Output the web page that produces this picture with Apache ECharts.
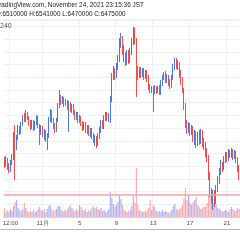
<!DOCTYPE html>
<html>
<head>
<meta charset="utf-8">
<script src="https://cdn.jsdelivr.net/npm/echarts@6/dist/echarts.min.js"></script>
<style>
  html, body { margin: 0; padding: 0; background: #fff; }
  #chart { width: 240px; height: 240px; }
</style>
</head>
<body>
<div id="chart"></div>
<script>
// bitFlyer BTC/JPY, 4h candles from Oct 27 20:00 JST, prices in thousand JPY
// [open, close, low, high]
const candles = [
  [6749, 6709, 6686, 6772], [6709, 6749, 6694, 6780], [6749, 6702, 6670, 6765], [6702, 6670, 6646, 6725],
  [6670, 6733, 6654, 6749], [6733, 6772, 6709, 6796], [6772, 6946, 6749, 6969], [6946, 6843, 6591, 7024],
  [6843, 6922, 6828, 6946], [6922, 7001, 6906, 7024], [7001, 6969, 6946, 7017], [6969, 7032, 6954, 7048],
  [7032, 7080, 7017, 7103], [7080, 7064, 7048, 7119], [7064, 7111, 7048, 7143], [7111, 7080, 7064, 7127],
  [7080, 7032, 7017, 7095], [7032, 7009, 6985, 7064], [7009, 7048, 6993, 7064], [7048, 7001, 6977, 7064],
  [7001, 7040, 6985, 7056], [7040, 7080, 7024, 7103], [7080, 7017, 7001, 7095], [7017, 6969, 6867, 7032],
  [6969, 7001, 6946, 7024], [7001, 6946, 6930, 7017], [6946, 6969, 6906, 6993], [6969, 6906, 6891, 6985],
  [6906, 6938, 6828, 6961], [6938, 7064, 6922, 7087], [7064, 7127, 7048, 7150], [7127, 7064, 7040, 7143],
  [7064, 7017, 6993, 7080], [7017, 6985, 6961, 7040], [6985, 7064, 6969, 7080], [7064, 7174, 7048, 7198],
  [7174, 7237, 7158, 7300], [7237, 7206, 7182, 7261], [7206, 7229, 7190, 7253], [7229, 7190, 7166, 7245],
  [7190, 7206, 7174, 7229], [7206, 7166, 7143, 7221], [7166, 7190, 6969, 7213], [7190, 7143, 7127, 7206],
  [7143, 7174, 7119, 7190], [7174, 7127, 7103, 7190], [7127, 7087, 7064, 7143], [7087, 7111, 7064, 7127],
  [7111, 7064, 7040, 7127], [7064, 7080, 7040, 7103], [7080, 7032, 7017, 7095], [7032, 7001, 6977, 7056],
  [7001, 7032, 6985, 7048], [7032, 6985, 6961, 7048], [6985, 7009, 6954, 7024], [7009, 6961, 6938, 7024],
  [6961, 6985, 6930, 7001], [6985, 6938, 6914, 7001], [6938, 6906, 6883, 6961], [6906, 6922, 6859, 6946],
  [6922, 6883, 6843, 6938], [6883, 6938, 6859, 6961], [6938, 6985, 6914, 7009], [6985, 7032, 6961, 7064],
  [7032, 7009, 6993, 7064], [7009, 7080, 6993, 7103], [7080, 7103, 7056, 7127], [7103, 7072, 7056, 7127],
  [7072, 7095, 7048, 7119], [7095, 7221, 7040, 7253], [7221, 7394, 7206, 7434], [7394, 7442, 7379, 7489],
  [7442, 7410, 7379, 7473], [7410, 7473, 7394, 7513], [7473, 7536, 7457, 7576], [7536, 7654, 7520, 7709],
  [7654, 7709, 7631, 7749], [7709, 7615, 7576, 7725], [7615, 7552, 7520, 7654], [7552, 7520, 7489, 7599],
  [7520, 7576, 7497, 7615], [7576, 7536, 7505, 7615], [7536, 7599, 7513, 7631], [7599, 7678, 7576, 7709],
  [7678, 7772, 7654, 7796], [7772, 7694, 7662, 7788], [7694, 7457, 7245, 7709], [7457, 7418, 7379, 7489],
  [7418, 7457, 7394, 7481], [7457, 7426, 7394, 7481], [7426, 7457, 7402, 7473], [7457, 7410, 7379, 7473],
  [7410, 7442, 7387, 7457], [7442, 7394, 7363, 7457], [7394, 7331, 7300, 7418], [7331, 7300, 7276, 7347],
  [7300, 7316, 7276, 7331], [7316, 7292, 7127, 7331], [7292, 7316, 7268, 7339], [7316, 7292, 7268, 7331],
  [7292, 7316, 7276, 7331], [7316, 7284, 7261, 7339], [7284, 7347, 7261, 7379], [7347, 7394, 7331, 7418],
  [7394, 7426, 7379, 7442], [7426, 7379, 7355, 7450], [7379, 7402, 7355, 7426], [7402, 7363, 7331, 7418],
  [7363, 7331, 7308, 7387], [7331, 7394, 7316, 7418], [7394, 7473, 7379, 7505], [7473, 7520, 7457, 7552],
  [7520, 7489, 7465, 7552], [7489, 7505, 7457, 7536], [7505, 7442, 7394, 7520], [7442, 7379, 7339, 7457],
  [7379, 7300, 7276, 7402], [7300, 7182, 7143, 7316], [7182, 7024, 7001, 7198], [7024, 6985, 6954, 7064],
  [6985, 7017, 6961, 7048], [7017, 6969, 6938, 7040], [6969, 7001, 6946, 7024], [7001, 6922, 6891, 7017],
  [6922, 6954, 6867, 6985], [6954, 6891, 6843, 6977], [6891, 6938, 6859, 6969], [6938, 6906, 6867, 6985],
  [6906, 6954, 6875, 6993], [6954, 6891, 6851, 6985], [6891, 6859, 6828, 6922], [6859, 6812, 6772, 6891],
  [6812, 6765, 6733, 6843], [6765, 6631, 6591, 6788], [6631, 6497, 6457, 6654], [6497, 6450, 6410, 6528],
  [6450, 6481, 6355, 6513], [6481, 6434, 6379, 6513], [6434, 6528, 6402, 6552], [6528, 6591, 6497, 6623],
  [6591, 6654, 6560, 6686], [6654, 6709, 6631, 6749], [6709, 6686, 6654, 6733], [6686, 6749, 6670, 6780],
  [6749, 6788, 6725, 6812], [6788, 6765, 6733, 6812], [6765, 6812, 6741, 6835], [6812, 6788, 6765, 6828],
  [6788, 6820, 6765, 6843], [6820, 6780, 6749, 6835], [6780, 6804, 6757, 6828], [6804, 6749, 6725, 6820],
  [6749, 6686, 6654, 6772], [6686, 6623, 6591, 6709]
]

// BTC per candle
const volumes = [
  450, 250, 350, 250, 400, 300, 550, 750, 850, 450,
  350, 300, 400, 700, 450, 300, 250, 300, 250, 350,
  250, 300, 400, 500, 350, 300, 400, 250, 400, 550,
  600, 400, 300, 350, 400, 550, 550, 400, 300, 350,
  300, 400, 500, 600, 450, 350, 300, 400, 300, 600,
  500, 350, 300, 400, 250, 350, 300, 450, 550, 450,
  500, 400, 350, 450, 300, 350, 250, 300, 400, 1250,
  950, 650, 500, 600, 750, 1050, 900, 600, 350, 300,
  250, 300, 350, 550, 1050, 700, 2450, 600, 350, 300,
  250, 300, 250, 350, 450, 850, 350, 600, 500, 300,
  250, 300, 250, 350, 250, 300, 250, 200, 250, 350,
  550, 650, 400, 350, 400, 450, 600, 950, 1450, 850,
  1100, 700, 600, 750, 850, 1000, 600, 500, 400, 450,
  550, 500, 700, 1100, 1000, 950, 700, 550, 600, 450,
  400, 350, 250, 300, 350, 300, 250, 400, 500, 400,
  300, 350, 450, 400
]

const tickIndex = [4, 25, 49, 73, 97, 121, 145]
const tickLabels = ['12:00', '11月', '5', '9', '13', '17', '21']
const lastClose = 6475
const headerLines = [
  'TradingView.com, November 24, 2021 23:15:36 JST',
  'O:6510000 H:6541000 L:6470000 C:6475000'
]
const intervalText = '240'

const UP = '#4d78d6'
const DOWN = '#ef4f4f'
const VOL_UP = 'rgba(110, 110, 250, 0.55)'
const VOL_DOWN = 'rgba(248, 100, 100, 0.55)'
const GRID = '#eef1f7'

const start = new Date(2021, 9, 27, 20)
const categories = candles.map((c, i) => {
  const d = new Date(start.getTime() + i * 4 * 3600 * 1000)
  return (d.getMonth() + 1) + '/' + d.getDate() + ' ' + d.getHours() + ':00'
})

const isTick = i => tickIndex.includes(i)

const chart = echarts.init(document.getElementById('chart'), null, { renderer: 'canvas' })
chart.setOption({
  animation: false,
  backgroundColor: '#fff',
  grid: { left: 0, right: 0, top: 20, bottom: 23 },
  xAxis: {
    type: 'category',
    data: categories,
    axisLine: { lineStyle: { color: '#d5d8de' } },
    axisTick: { show: false },
    axisLabel: {
      interval: isTick,
      formatter: (v, i) => tickLabels[tickIndex.indexOf(i)],
      fontSize: 6,
      fontFamily: 'Liberation Sans',
      color: '#4a4a4a',
      margin: 3
    },
    splitLine: { show: true, interval: isTick, lineStyle: { color: GRID } }
  },
  yAxis: [
    {
      min: 6300,
      max: 7851,
      interval: 100,
      axisLine: { show: false },
      axisTick: { show: false },
      axisLabel: { show: false },
      splitLine: { lineStyle: { color: GRID } }
    },
    { min: 0, max: 9850, show: false, splitLine: { show: false } }
  ],
  series: [
    {
      type: 'bar',
      yAxisIndex: 1,
      barWidth: '75%',
      data: volumes.map((v, i) => ({
        value: v,
        itemStyle: { color: candles[i][1] >= candles[i][0] ? VOL_UP : VOL_DOWN }
      }))
    },
    {
      type: 'candlestick',
      barWidth: 1,
      data: candles,
      itemStyle: { color: UP, color0: DOWN, borderColor: UP, borderColor0: DOWN, borderWidth: 1 },
      markLine: {
        silent: true,
        symbol: ['none', 'none'],
        label: { show: false },
        lineStyle: { color: '#f6a5a5', type: 'solid', width: 1.5 },
        data: [{ yAxis: lastClose }]
      }
    }
  ],
  graphic: [
    { type: 'rect', shape: { x: 0, y: 0, width: 240, height: 19 }, style: { fill: '#fff' }, z: 100 },
    { type: 'text', x: -4.5, y: 1, scaleX: 0.8, z: 101,
      style: { text: headerLines[0], font: '8px "Liberation Sans"', fill: '#222' } },
    { type: 'text', x: -4.3, y: 10, scaleX: 0.8, z: 101,
      style: { text: headerLines[1], font: '8px "Liberation Sans"', fill: '#222' } },
    { type: 'line', shape: { x1: 0, y1: 19.5, x2: 240, y2: 19.5 }, style: { stroke: GRID }, z: 101 },
    { type: 'text', x: 0, y: 23, z: 101,
      style: { text: intervalText, font: '7px "Liberation Sans"', fill: '#555' } },
    { type: 'line', shape: { x1: 0, y1: 229.5, x2: 240, y2: 229.5 }, style: { stroke: '#b8b8b8' }, z: 101 }
  ]
})
</script>
</body>
</html>
